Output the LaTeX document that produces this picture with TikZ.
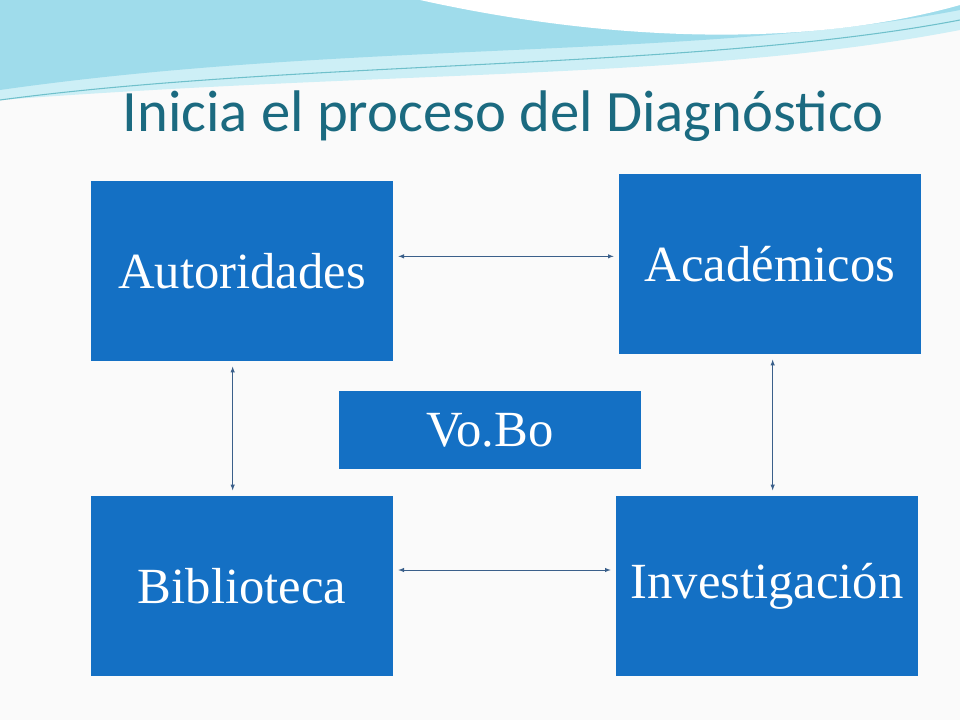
\documentclass[tikz,border=0pt]{standalone}
\usepackage{fontspec}
\setmainfont{Liberation Serif}
\newfontfamily\titlefont{Carlito}
\usetikzlibrary{positioning}
\definecolor{boxblue}{HTML}{1470C4}
\definecolor{titleteal}{HTML}{1B6A80}
\definecolor{linkblue}{HTML}{3A5F8A}
\definecolor{waveA}{HTML}{9FDCEB}
\definecolor{waveB}{HTML}{CDEFF6}
\tikzset{
  areabox/.style={fill=boxblue, text=white, font=\fontsize{38}{42}\selectfont,
    minimum width=226pt, minimum height=135pt, inner sep=0pt},
  link/.style={<->, >=latex, draw=linkblue, line width=0.5pt, shorten <=4pt, shorten >=4pt}
}
\begin{document}
\begin{tikzpicture}[x=0.75pt,y=-0.75pt]
\useasboundingbox (0,0) rectangle (960,720);
\fill[gray!4] (0,0) rectangle (960,720);
% top wave
\fill[waveB] (0,0) -- (960,0) -- (960,30) .. controls (700,80) and (400,70) .. (0,100) -- cycle;
\fill[waveA] (0,0) -- (960,0) -- (960,10) .. controls (700,60) and (350,40) .. (0,90) -- cycle;
\fill[white] (420,0) .. controls (600,40) and (800,50) .. (960,5) -- (960,0) -- cycle;
\draw[waveA!70!teal, line width=0.8pt] (0,100) .. controls (300,60) and (700,70) .. (960,20);
% title
\node[text=titleteal, font=\titlefont\fontsize{44}{50}\selectfont] (title) at (503,116) {Inicia el proceso del Diagnóstico};
% boxes
\node[areabox] (aut) at (242,271) {Autoridades};
\node[areabox] (aca) at (770,264) {Académicos};
\node[areabox] (bib) at (242,586) {Biblioteca};
\node[areabox] (inv) at (767,586) {Investigación};
\node[areabox, minimum height=58pt] (vobo) at (490,430) {Vo.Bo};
% links
\draw[link] ([yshift=11pt]aut.east) -- ([yshift=11pt]aut.east -| aca.west);
\draw[link] ([yshift=12pt]bib.east) -- ([yshift=12pt]bib.east -| inv.west);
\draw[link] ([xshift=-7pt]aut.south) -- ([xshift=-7pt]aut.south |- bib.north);
\draw[link] ([xshift=2pt]aca.south) -- ([xshift=2pt]aca.south |- inv.north);
\end{tikzpicture}
\end{document}
